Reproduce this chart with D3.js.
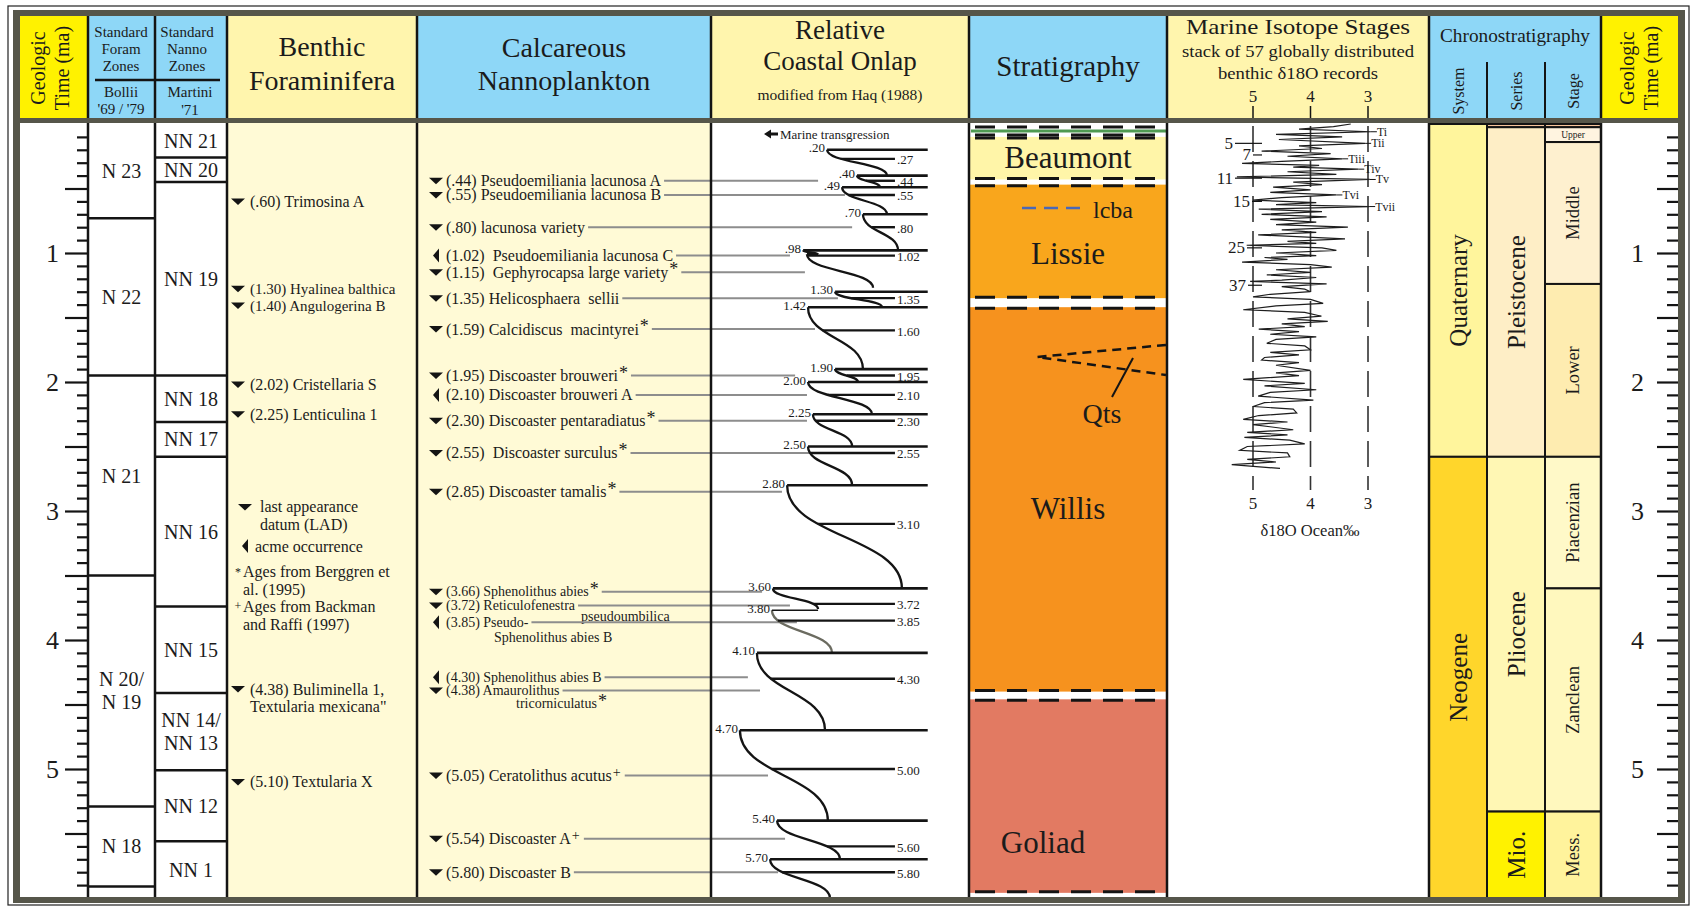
<!DOCTYPE html>
<html>
<head>
<meta charset="utf-8">
<title>Plio-Pleistocene chart</title>
<script src="https://cdn.jsdelivr.net/npm/d3@7"></script>
<style>
  body { margin: 0; background: #fff; }
  svg { display: block; }
  text { font-family: "Liberation Serif", "Times New Roman", serif; fill: #1b1b1b; white-space: pre; }
</style>
</head>
<body>
<svg id="chart" width="1692" height="906"></svg>
<script>
// ---------- data (ages in Ma) ----------
const foramZone = ["N 23", "N 22", "N 21", "N 20/|N 19", "N 18", ""];
const foramBase = [0.73, 1.95, 3.50, 5.29, 5.91, 6.0];

const nannoZone = ["NN 21", "NN 20", "NN 19", "NN 18", "NN 17", "NN 16", "NN 15", "NN 14/|NN 13", "NN 12", "NN 1"];
const nannoBase = [0.26, 0.45, 1.95, 2.31, 2.58, 3.74, 4.41, 5.01, 5.56, 6.0];

const benthicAge = [0.60, 1.30, 1.40, 2.02, 2.25, 4.38, 5.10];
const benthicName = ["Trimosina A", "Hyalinea balthica", "Angulogerina B", "Cristellaria S",
  "Lenticulina 1", "Buliminella 1,", "Textularia X"];
const benthicName2 = ["", "", "", "", "", "Textularia mexicana\"", ""];

const calcAge = [0.44, 0.55, 0.80, 1.02, 1.15, 1.35, 1.59, 1.95, 2.10, 2.30,
  2.55, 2.85, 3.66, 3.72, 3.85, 4.30, 4.38, 5.05, 5.54, 5.80];
const calcName = ["Pseudoemiliania lacunosa A", "Pseudoemiliania lacunosa B", "lacunosa variety",
  " Pseudoemiliania lacunosa C", " Gephyrocapsa large variety", "Helicosphaera  sellii",
  "Calcidiscus  macintyrei", "Discoaster brouweri", "Discoaster brouweri A", "Discoaster pentaradiatus",
  " Discoaster surculus", "Discoaster tamalis", "Sphenolithus abies", "Reticulofenestra", "Pseudo-",
  "Sphenolithus abies B", "Amaurolithus", "Ceratolithus acutus", "Discoaster A", "Discoaster B"];
const calcName2 = ["", "", "", "", "", "", "", "", "", "", "", "", "", "pseudoumbilica",
  "Sphenolithus abies B", "", "tricorniculatus", "", "", ""];
const calcKind = ["L", "L", "L", "A", "L", "L", "L", "L", "A", "L", "L", "L", "L", "L", "A", "A", "L", "L", "L", "L"];
const calcNote = ["", "", "", "", "*", "", "*", "*", "", "*", "*", "*", "*", "", "", "", "*", "+", "+", ""];
// onlap value that each nannofossil tie line reaches
const calcTie = [41.5, 51.9, 54.7, 30.6, 36.4, 49.2, 40.3, 32.6, 37.2, 37.2,
  40.3, 27.5, 19.8, 30.6, 33.3, 14.3, 19.0, 22.1, 28.7, 26.0];

// relative coastal onlap cycles (onlap 0 = basinward, 100 = landward)
const seqTop  = [0.20, 0.40, 0.49, 0.70, 0.98, 1.01, 1.30, 1.42, 1.90, 2.00, 2.25, 2.50, 2.80, 3.60, 3.77, 4.10, 4.70, 5.40, 5.70];
const seqBase = [0.40, 0.49, 0.70, 0.98, 1.01, 1.27, 1.42, 1.90, 2.00, 2.25, 2.50, 2.80, 3.60, 3.76, 4.10, 4.70, 5.40, 5.70, 6.00];
const seqLow  = [45.0, 56.6, 50.8, 58.9, 35.7, 37.2, 48.1, 37.6, 48.1, 37.6, 39.5, 37.6, 29.5, 24.0, 23.6, 17.8, 11.2, 25.6, 22.9];
const seqHigh = [68.2, 65.5, 68.2, 72.5, 41.5, 62.8, 66.3, 58.9, 57.0, 62.4, 54.7, 54.7, 74.0, 41.5, 46.9, 44.2, 45.3, 50.0, 46.1];
const seqLabel = [".20", ".40", ".49", ".70", ".98", "", "1.30", "1.42", "1.90", "2.00", "2.25", "2.50", "2.80", "3.60", "3.80", "4.10", "4.70", "5.40", "5.70"];
const minorAge = [0.27, 0.44, 0.55, 0.80, 1.02, 1.35, 1.60, 1.95, 2.10, 2.30, 2.55, 3.10, 3.72, 3.85, 4.30, 5.00, 5.60, 5.80];

const stratName = ["Beaumont", "Lissie", "Willis", "Goliad"];
const stratTop  = [0.10, 0.47, 1.42, 4.46];
const stratBase = [0.43, 1.35, 4.40, 5.96];
const stratLabelAge = [0.26, 1.00, 2.98, 5.57];

const isoAge = [0.00, 0.02, 0.04, 0.06, 0.08, 0.10, 0.12, 0.15, 0.17, 0.19, 0.21, 0.23, 0.25, 0.27, 0.29, 0.305, 0.32, 0.335,
  0.35, 0.37, 0.39, 0.41, 0.43, 0.45, 0.47, 0.49, 0.51, 0.53, 0.55, 0.57, 0.59, 0.61, 0.625, 0.64, 0.66, 0.68, 0.70,
  0.72, 0.74, 0.76, 0.78, 0.80, 0.82, 0.84, 0.86, 0.89, 0.91, 0.925, 0.94, 0.96, 0.98, 1.00, 1.02, 1.035, 1.05, 1.07,
  1.09, 1.11, 1.13, 1.15, 1.17, 1.19, 1.21, 1.22, 1.24, 1.26, 1.28, 1.30, 1.32, 1.34, 1.36, 1.39, 1.41, 1.44, 1.46,
  1.49, 1.51, 1.53, 1.55, 1.57, 1.59, 1.61, 1.63, 1.65, 1.67, 1.70, 1.72, 1.75, 1.77, 1.79, 1.81, 1.83, 1.85, 1.87,
  1.91, 1.93, 1.95, 1.98, 2.01, 2.03, 2.06, 2.08, 2.11, 2.14, 2.16, 2.19, 2.21, 2.24, 2.26, 2.29, 2.31, 2.33, 2.37,
  2.39, 2.41, 2.43, 2.45, 2.48, 2.50, 2.53, 2.55, 2.58, 2.60, 2.62, 2.64, 2.67];
const isoVal = [3.30, 3.60, 4.20, 2.95, 4.60, 3.45, 4.55, 3.05, 4.20, 3.80, 4.85, 3.65, 4.40, 3.45, 4.50, 5.19, 3.85, 4.30,
  3.17, 4.40, 3.55, 5.28, 2.97, 4.30, 3.80, 4.65, 4.00, 4.70, 3.55, 4.50, 5.00, 3.90, 4.60, 2.98, 4.90, 3.80, 4.85,
  3.72, 4.70, 3.90, 4.60, 3.35, 4.50, 3.90, 4.91, 3.40, 4.40, 3.90, 5.11, 3.80, 3.55, 4.60, 3.90, 4.80, 4.40, 5.19,
  4.00, 3.63, 4.60, 4.00, 4.76, 3.90, 4.50, 5.05, 3.72, 4.50, 4.10, 4.00, 4.70, 5.00, 4.00, 3.78, 4.60, 5.17, 4.10,
  3.81, 4.40, 3.70, 4.50, 4.10, 4.90, 4.20, 4.70, 3.90, 4.60, 4.76, 4.10, 4.00, 4.70, 4.20, 4.80, 4.85, 4.20, 4.60,
  4.00, 4.60, 4.20, 5.17, 4.10, 4.80, 3.90, 4.70, 4.91, 3.95, 4.80, 5.00, 4.30, 4.24, 4.90, 5.17, 4.40, 5.00, 4.30,
  5.10, 4.40, 5.15, 4.36, 4.10, 5.10, 5.23, 4.40, 4.36, 5.10, 4.60, 5.37, 4.53];
const termName = ["Ti", "Tii", "Tiii", "Tiv", "Tv", "Tvi", "Tvii"];
const termAge = [0.06, 0.15, 0.27, 0.35, 0.43, 0.55, 0.64];
const misStage = ["5", "7", "11", "15", "25", "37"];
const misAge = [0.15, 0.24, 0.42, 0.60, 0.96, 1.25];
const isoTicks = [5, 4, 3];

const systemName = ["Quaternary", "Neogene"];
const systemTop = [0, 2.58], systemBase = [2.58, 6];
const seriesName = ["", "Pleistocene", "Pliocene", "Mio."];
const seriesTop = [0, 0.025, 2.58, 5.33], seriesBase = [0.025, 2.58, 5.33, 6];
const stageName = ["", "Upper", "Middle", "Lower", "Piacenzian", "Zanclean", "Mess."];
const stageTop = [0, 0.025, 0.14, 1.24, 2.58, 3.60, 5.33], stageBase = [0.025, 0.14, 1.24, 2.58, 3.60, 5.33, 6];

// ---------- scales & helpers ----------
const svg = d3.select("#chart");
const y = d3.scaleLinear().domain([0, 6]).range([124, 898]);
const xOn = d3.scaleLinear().domain([0, 100]).range([711, 969]);
const xIso = d3.scaleLinear().domain([5, 3]).range([1253, 1368]);
const fmt = v => d3.format(".2f")(v).replace(/^0/, "");

const YEL = "#fff200", BLUE = "#8ed7f7", PALE = "#fff5ad", PALEBODY = "#fffad6", FRAME = "#56564a", INK = "#141414";
const LBL = 16;

function txt(g, x, yy, s, size, anchor = "middle") {
  return g.append("text").attr("x", x).attr("y", yy).attr("font-size", size)
    .attr("text-anchor", anchor).attr("dominant-baseline", "central").text(s);
}
function vtxt(g, x, yy, s, size) {
  return g.append("text").attr("transform", `translate(${x},${yy}) rotate(-90)`)
    .attr("font-size", size).attr("text-anchor", "middle").attr("dominant-baseline", "central").text(s);
}
function hline(g, x1, x2, yy, w = 2.5, col = INK) {
  return g.append("line").attr("x1", x1).attr("x2", x2).attr("y1", yy).attr("y2", yy)
    .attr("stroke", col).attr("stroke-width", w);
}
function marker(g, x, yy, kind) {
  const d = kind === "A" ? "M3,-7L3,7L-3,0Z" : "M-7,-3L7,-3L0,3.5Z";
  g.append("path").attr("d", d).attr("transform", `translate(${x},${yy})`).attr("fill", INK);
}
const fit = (sel, w) => sel.attr("textLength", w).attr("lengthAdjust", "spacingAndGlyphs");

// ---------- frame & column backgrounds ----------
const cols = [
  [20, 88, YEL, "#fff"], [88, 155, BLUE, "#fff"], [155, 227, BLUE, "#fff"],
  [227, 417, PALE, PALEBODY], [417, 711, BLUE, PALEBODY], [711, 969, PALE, "#fff"],
  [969, 1167, BLUE, "#fff"], [1167, 1429, PALE, "#fff"], [1429, 1601, BLUE, "#fff"],
  [1601, 1678, YEL, "#fff"]
];
const bg = svg.append("g");
bg.append("rect").attr("x", 8).attr("y", 6).attr("width", 1681).attr("height", 899)
  .attr("fill", "#fff").attr("stroke", "#222").attr("stroke-width", 1.2);
bg.append("rect").attr("x", 13).attr("y", 10).attr("width", 1672).attr("height", 893).attr("fill", FRAME);
cols.forEach(c => {
  bg.append("rect").attr("x", c[0]).attr("y", 16).attr("width", c[1] - c[0]).attr("height", 102).attr("fill", c[2]);
  bg.append("rect").attr("x", c[0]).attr("y", 123).attr("width", c[1] - c[0]).attr("height", 774).attr("fill", c[3]);
});

// ---------- header ----------
const hd = svg.append("g");
vtxt(hd, 38, 68, "Geologic", 20); vtxt(hd, 62, 68, "Time (ma)", 20);
vtxt(hd, 1627, 68, "Geologic", 20); vtxt(hd, 1651, 68, "Time (ma)", 20);
[["Standard", 32], ["Foram", 49], ["Zones", 66]].forEach(d => txt(hd, 121, d[1], d[0], 15));
txt(hd, 121, 92, "Bollii", 15); txt(hd, 121, 109, "'69 / '79", 15);
[["Standard", 32], ["Nanno", 49], ["Zones", 66]].forEach(d => txt(hd, 187, d[1], d[0], 15));
txt(hd, 190, 92, "Martini", 15); txt(hd, 190, 110, "'71", 15);
hline(hd, 95, 220, 80);
txt(hd, 322, 46, "Benthic", 28); txt(hd, 322, 80, "Foraminifera", 28);
txt(hd, 564, 47, "Calcareous", 28); txt(hd, 564, 80, "Nannoplankton", 28);
txt(hd, 840, 30, "Relative", 27); txt(hd, 840, 61, "Coastal Onlap", 27);
txt(hd, 840, 94, "modified from Haq (1988)", 15.5);
txt(hd, 1068, 66, "Stratigraphy", 29);
fit(txt(hd, 1298, 26, "Marine Isotope Stages", 22), 224);
fit(txt(hd, 1298, 51, "stack of 57 globally distributed", 16), 232);
fit(txt(hd, 1298, 73, "benthic δ18O records", 16), 160);
isoTicks.forEach(v => {
  txt(hd, xIso(v), 96, v, 17);
  hd.append("line").attr("x1", xIso(v)).attr("x2", xIso(v)).attr("y1", 106).attr("y2", 118)
    .attr("stroke", INK).attr("stroke-width", 1.5);
});
fit(txt(hd, 1515, 36, "Chronostratigraphy", 18), 150);
[1487, 1545].forEach(x => hd.append("line").attr("x1", x).attr("x2", x).attr("y1", 62).attr("y2", 118)
  .attr("stroke", INK).attr("stroke-width", 2));
vtxt(hd, 1458, 91, "System", 16); vtxt(hd, 1516, 91, "Series", 16); vtxt(hd, 1573, 91, "Stage", 16);

// ---------- zone columns ----------
const zn = svg.append("g");
function zoneColumn(x0, x1, names, bases) {
  let top = 0;
  names.forEach((n, i) => {
    const b = bases[i];
    if (b < 6) hline(zn, x0, x1, y(b), 2.5);
    const parts = n.split("|");
    const cy = (y(top) + y(b)) / 2;
    parts.forEach((p, j) => txt(zn, (x0 + x1) / 2, cy + (j - (parts.length - 1) / 2) * 23, p, 20));
    top = b;
  });
}
zoneColumn(88, 155, foramZone, foramBase);
zoneColumn(155, 227, nannoZone, nannoBase);

// ---------- benthic foraminifera ----------
const bf = svg.append("g");
const bNudge = { 1: -3, 2: 1 };
benthicAge.forEach((a, i) => {
  const yy = y(a) + (bNudge[i] || 0);
  marker(bf, 238, yy, "L");
  txt(bf, 250, yy, `(${fmt(a)}) ${benthicName[i]}`, i === 1 || i === 2 ? 15 : LBL, "start");
  if (benthicName2[i]) txt(bf, 250, yy + 17, benthicName2[i], LBL, "start");
});
marker(bf, 245, 507, "L");
txt(bf, 260, 506, "last appearance", LBL, "start");
txt(bf, 260, 524, "datum (LAD)", LBL, "start");
marker(bf, 245, 546, "A");
txt(bf, 255, 546, "acme occurrence", LBL, "start");
txt(bf, 238, 572, "*", 12, "middle");
txt(bf, 243, 571, "Ages from Berggren et", LBL, "start");
txt(bf, 243, 589, "al. (1995)", LBL, "start");
txt(bf, 238, 606, "+", 12, "middle");
txt(bf, 243, 606, "Ages from Backman", LBL, "start");
txt(bf, 243, 624, "and Raffi (1997)", LBL, "start");

// ---------- calcareous nannoplankton ----------
const cn = svg.append("g");
const tieG = svg.append("g");
const second = { 13: [135, 11], 14: [48, 15], 16: [70, 13] };   // indent / drop of wrapped lines
const nudge = { 12: -4.5, 13: 1.5, 14: 1.5, 15: -1.5, 16: 1.5 };  // crowded 3.6-4.4 rows
calcAge.forEach((a, i) => {
  const yy = y(a) + (nudge[i] || 0);
  const size = nudge[i] !== undefined ? 14 : LBL;
  marker(cn, 436, yy, calcKind[i]);
  const t = txt(cn, 446, yy, `(${fmt(a)}) ${calcName[i]}`, size, "start");
  let end = 446 + t.node().getComputedTextLength();
  const s2 = calcName2[i];
  let noteX = end, noteY = yy;
  if (s2) {
    const off = second[i];
    const t2 = txt(cn, 446 + off[0], yy + off[1], s2, size, "start");
    if (calcNote[i]) { noteX = 446 + off[0] + t2.node().getComputedTextLength(); noteY = yy + off[1]; }
  }
  if (calcNote[i]) {
    txt(cn, noteX + 1, noteY - 3, calcNote[i], calcNote[i] === "*" ? 18 : 14, "start");
    if (!s2) end += 10;
  }
  hline(tieG, end + 3, xOn(calcTie[i]), yy, 2, "#8d8d8d");
});

// ---------- relative coastal onlap ----------
const on = svg.append("g");
const link = d3.linkVertical().x(d => d[0]).y(d => d[1]);
function curveX(t) {
  const i = seqTop.findIndex((s, k) => t >= s && t <= seqBase[k]);
  const f = (t - seqTop[i]) / (seqBase[i] - seqTop[i]);
  let lo = 0, hi = 1;
  for (let k = 0; k < 40; k++) {
    const s = (lo + hi) / 2;
    if (1.5 * s * (1 - s) + s * s * s < f) lo = s; else hi = s;
  }
  const s = (lo + hi) / 2;
  return xOn(seqLow[i]) + (xOn(seqHigh[i]) - xOn(seqLow[i])) * (3 * s * s - 2 * s * s * s);
}
seqTop.forEach((t, i) => {
  const src = [xOn(seqLow[i]), y(t)], tgt = [xOn(seqHigh[i]), y(seqBase[i])];
  const faint = seqLabel[i] === "3.80";
  on.append("path").attr("d", link({ source: src, target: tgt })).attr("fill", "none")
    .attr("stroke", faint ? "#6b6b60" : INK).attr("stroke-width", 2.3);
  const end = (seqLabel[i] === "" || faint) ? xOn(seqHigh[i - 1]) : xOn(84);
  hline(on, src[0], end, src[1], faint ? 1.5 : 2.6);
  if (seqLabel[i]) txt(on, src[0] - 2, src[1] - 2, seqLabel[i], 13, "end");
});
minorAge.forEach(a => {
  hline(on, curveX(a), xOn(71.3), y(a), 2.4);
  txt(on, xOn(71.3) + 2, y(a) + 1, fmt(a), 13, "start");
});
on.append("path").attr("d", "M764,134L771,129.5L771,132.5L778,132.5L778,135.5L771,135.5L771,138.5Z").attr("fill", INK);
txt(on, 780, 134, "Marine transgression", 13, "start");

// ---------- stratigraphy ----------
const st = svg.append("g");
const stratFill = { Beaumont: "#fff5a8", Lissie: "#f9a61c", Willis: "#f6921e", Goliad: "#e27a62" };
const dash = (yy, col = INK) => hline(st, 971, 1166, yy, 3, col).attr("stroke-dasharray", "20,12").attr("stroke-dashoffset", -4);
stratName.forEach((n, i) => {
  st.append("rect").attr("x", 970).attr("y", y(stratTop[i])).attr("width", 197)
    .attr("height", y(stratBase[i]) - y(stratTop[i])).attr("fill", stratFill[n]);
  dash(y(stratTop[i]) + 1); dash(y(stratBase[i]) - 1);
  txt(st, n === "Goliad" ? 1043 : 1068, y(stratLabelAge[i]), n, 31);
});
dash(127); dash(135);
hline(st, 971, 1166, 131, 3, "#4f9a52");
hline(st, 1022, 1082, 208, 2.5, "#4a68b8").attr("stroke-dasharray", "14,8");
txt(st, 1093, 210, "lcba", 24, "start");
st.append("path").attr("d", `M1166,${y(1.713)}L1037,${y(1.806)}L1166,${y(1.946)}`)
  .attr("fill", "none").attr("stroke", INK).attr("stroke-width", 2.5).attr("stroke-dasharray", "9,6");
st.append("line").attr("x1", 1133).attr("y1", 358).attr("x2", 1112).attr("y2", 397).attr("stroke", INK).attr("stroke-width", 2);
txt(st, 1102, 413, "Qts", 28);

// ---------- marine isotope stages ----------
const iso = svg.append("g");
isoTicks.forEach(v => {
  iso.append("line").attr("x1", xIso(v)).attr("x2", xIso(v)).attr("y1", 126).attr("y2", 490)
    .attr("stroke", "#333").attr("stroke-width", 1.6).attr("stroke-dasharray", "26,9");
  txt(iso, xIso(v), 503, v, 17);
});
txt(iso, 1310, 530, "δ18O Ocean‰", 16.5);
const isoData = isoAge.map((a, i) => [a, isoVal[i]]);
iso.append("path").datum(isoData)
  .attr("d", d3.line().x(d => xIso(d[1])).y(d => y(d[0])))
  .attr("fill", "none").attr("stroke", "#1e1e1e").attr("stroke-width", 1.2);
termName.forEach((n, i) => {
  const v = isoVal[isoAge.indexOf(termAge[i])];
  hline(iso, xIso(v), xIso(v) + 6, y(termAge[i]), 1);
  txt(iso, xIso(v) + 6, y(termAge[i]), n, 12, "start");
});
const misEnd = [1233, 1251, 1233, 1250, 1245, 1246];
misStage.forEach((n, i) => {
  txt(iso, misEnd[i], y(misAge[i]), n, 17, "end");
  hline(iso, misEnd[i] + 2, 1262, y(misAge[i]), 1.2);
});

// ---------- chronostratigraphy ----------
const ch = svg.append("g");
const chronoFill = {
  Quaternary: "#fff59c", Neogene: "#ffd62b", "": "#f7c49c", Pleistocene: "#feeec6", Pliocene: "#fff7b4",
  "Mio.": "#fff200", Upper: "#fff4e0", Middle: "#fef0cf", Lower: "#feecb0", Piacenzian: "#fff9c8",
  Zanclean: "#fff8be", "Mess.": "#fff39c"
};
function chronoColumn(x0, x1, names, tops, bases, sizeOf) {
  names.forEach((n, i) => {
    ch.append("rect").attr("x", x0).attr("y", y(tops[i])).attr("width", x1 - x0)
      .attr("height", y(bases[i]) - y(tops[i])).attr("fill", chronoFill[n])
      .attr("stroke", INK).attr("stroke-width", 2);
    const cy = (y(tops[i]) + y(bases[i])) / 2;
    if (n === "Upper") txt(ch, (x0 + x1) / 2, cy, n, 9.5);
    else if (n) vtxt(ch, (x0 + x1) / 2, cy, n, sizeOf);
  });
}
chronoColumn(1429, 1487, systemName, systemTop, systemBase, 25);
chronoColumn(1487, 1545, seriesName, seriesTop, seriesBase, 25);
chronoColumn(1545, 1601, stageName, stageTop, stageBase, 18.5);

// ---------- time axes ----------
const majorT = d3.range(1, 12).map(i => i * 0.5);
const minorT = d3.range(1, 60).map(i => i / 10).filter(v => Math.abs(v * 2 - Math.round(v * 2)) > 1e-6);
function timeAxis(x, minorSize, majorSize, pad) {
  const styleAxis = g => {
    g.select(".domain").remove();
    g.selectAll(".tick line").attr("stroke", INK).attr("stroke-width", 2.2);
    g.selectAll(".tick text").attr("font-family", "Liberation Serif, serif").attr("font-size", 26).attr("fill", "#222");
  };
  svg.append("g").attr("transform", `translate(${x},0)`)
    .call(d3.axisLeft(y).tickValues(minorT).tickSize(minorSize).tickFormat("")).call(styleAxis);
  svg.append("g").attr("transform", `translate(${x},0)`)
    .call(d3.axisLeft(y).tickValues(majorT).tickSize(majorSize).tickPadding(pad)
      .tickFormat(v => Number.isInteger(v) ? v : "")).call(styleAxis);
}
timeAxis(87, 10, 22, 6);
timeAxis(1678, 11, 21, 13);

// ---------- dividers and frame on top ----------
const fr = svg.append("g");
[88, 155, 227, 417, 711, 969, 1167, 1429, 1601].forEach(x => {
  fr.append("line").attr("x1", x).attr("x2", x).attr("y1", 16).attr("y2", 118).attr("stroke", INK).attr("stroke-width", 2.5);
  fr.append("line").attr("x1", x).attr("x2", x).attr("y1", 123).attr("y2", 897).attr("stroke", INK).attr("stroke-width", 2.5);
});
[[13, 10, 1672, 6], [13, 897, 1672, 6], [13, 10, 7, 893], [1678, 10, 7, 893], [13, 118, 1672, 5]].forEach(r =>
  fr.append("rect").attr("x", r[0]).attr("y", r[1]).attr("width", r[2]).attr("height", r[3]).attr("fill", FRAME));
</script>
</body>
</html>
